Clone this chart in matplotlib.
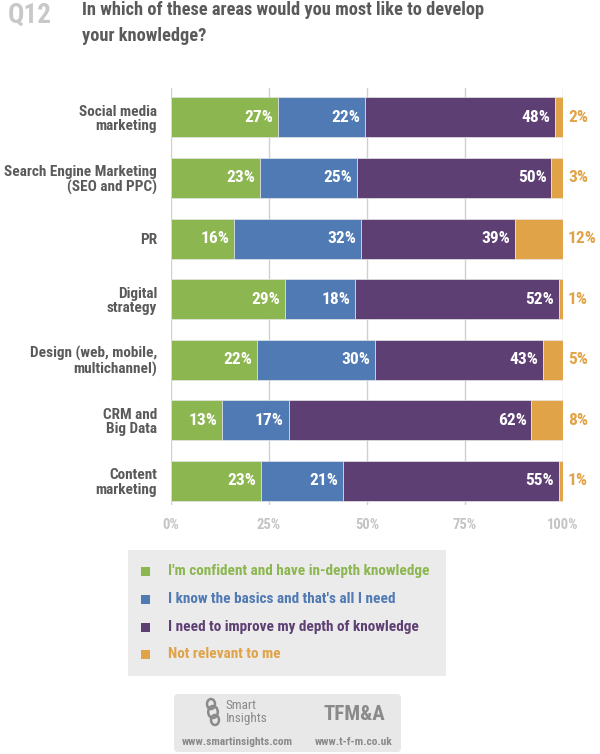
import matplotlib.pyplot as plt
import numpy as np
from matplotlib.patches import FancyBboxPatch, Circle

plt.rcParams['font.family'] = ['Roboto Condensed', 'Liberation Sans Narrow', 'Roboto', 'DejaVu Sans']

categories = ["Social media\nmarketing", "Search Engine Marketing\n(SEO and PPC)", "PR",
              "Digital\nstrategy", "Design (web, mobile,\nmultichannel)", "CRM and\nBig Data",
              "Content\nmarketing"]
confident = [27, 23, 16, 29, 22, 13, 23]
basics = [22, 25, 32, 18, 30, 17, 21]
improve = [48, 50, 39, 52, 43, 62, 55]
not_relevant = [2, 3, 12, 1, 5, 8, 1]

series_names = ["I'm confident and have in-depth knowledge",
                "I know the basics and that's all I need",
                "I need to improve my depth of knowledge",
                "Not relevant to me"]
colors = ["#8cb650", "#4f7ab3", "#5e3f74", "#e0a347"]

data = np.array([confident, basics, improve, not_relevant], dtype=float)
shares = data / data.sum(axis=0) * 100

fig = plt.figure(figsize=(6, 7.54), dpi=100)
ax = fig.add_axes([0.285, 0.330, 0.653, 0.553])

y = np.arange(len(categories))
left = np.zeros(len(categories))
for i in range(4):
    ax.barh(y, shares[i], left=left, height=0.66, color=colors[i], zorder=3,
            edgecolor="#e6e6e6", linewidth=0.5)
    for j in range(len(categories)):
        label = f"{int(data[i, j])}%"
        if i < 3:
            ax.text(left[j] + shares[i, j] - 1.2, y[j], label, ha="right", va="center",
                    color="white", fontsize=12.5, fontweight="bold", zorder=4)
        else:
            ax.text(101.3, y[j], label, ha="left", va="center",
                    color=colors[3], fontsize=12.5, fontweight="bold", zorder=4,
                    clip_on=False)
    left += shares[i]

ax.set_xlim(0, 100)
ax.set_ylim(6.4, -0.48)
ax.set_yticks(y)
ax.set_yticklabels(categories, fontsize=11, fontweight="bold", color="#5a5a5a",
                   multialignment="right", linespacing=1.05)
ax.set_xticks([0, 25, 50, 75, 100])
ax.set_xticklabels(["0%", "25%", "50%", "75%", "100%"], fontsize=10.5,
                   fontweight="bold", color="#c4c4c4")
ax.tick_params(axis="y", length=0, pad=10)
ax.tick_params(axis="x", length=0, pad=9)
for s in ax.spines.values():
    s.set_visible(False)
ax.grid(axis="x", color="#d0d0d0", linewidth=1, zorder=0)

# title
fig.text(8 / 600, 1 - 2 / 754, "Q12", fontsize=19.5, fontweight="bold", color="#c8c8c8",
         va="top")
fig.text(82 / 600, 1 - 1 / 754, "In which of these areas would you most like to develop\nyour knowledge?",
         fontsize=13.2, fontweight="bold", color="#5a5a5a", va="top", linespacing=1.55)

# legend box
fig.patches.append(FancyBboxPatch((128 / 600, 1 - 676 / 754), 318 / 600, 126 / 754,
                                  boxstyle="square,pad=0", transform=fig.transFigure,
                                  facecolor="#ebebeb", edgecolor="none"))
rows = [571, 599, 627, 654]
for name, c, r in zip(series_names, colors, rows):
    fig.patches.append(FancyBboxPatch((141 / 600, 1 - (r + 5) / 754), 9 / 600, 9 / 754,
                                      boxstyle="square,pad=0", transform=fig.transFigure,
                                      facecolor=c, edgecolor="none"))
    fig.text(168 / 600, 1 - r / 754, name, fontsize=11, fontweight="bold", color=c,
             va="center")

# footer box
fig.patches.append(FancyBboxPatch((174 / 600, 1 - 752 / 754), 227 / 600, 58 / 754,
                                  boxstyle="round,pad=0,rounding_size=0.006",
                                  transform=fig.transFigure,
                                  facecolor="#e8e8e8", edgecolor="none"))
for dx, dy, rr in [(0, 0, 6), (-2, -8, 5), (2, 8, 5)]:
    fig.patches.append(Circle(((213 + dx) / 600, 1 - (712 + dy) / 754), rr / 754,
                              transform=fig.transFigure, facecolor="none",
                              edgecolor="#8a8a8a", linewidth=1.8))
fig.text(226 / 600, 1 - 712 / 754, "Smart\nInsights", fontsize=9.5, color="#8a8a8a",
         va="center", linespacing=0.95)
fig.text(354 / 600, 1 - 714 / 754, "TFM&A", fontsize=15, fontweight="bold",
         color="#8a8a8a", ha="center", va="center")
fig.text(237 / 600, 1 - 742 / 754, "www.smartinsights.com", fontsize=8.2,
         fontweight="bold", color="#8a8a8a", ha="center", va="center")
fig.text(354 / 600, 1 - 742 / 754, "www.t-f-m.co.uk", fontsize=8.2,
         fontweight="bold", color="#8a8a8a", ha="center", va="center")

fig.savefig("out.png", dpi=100)
